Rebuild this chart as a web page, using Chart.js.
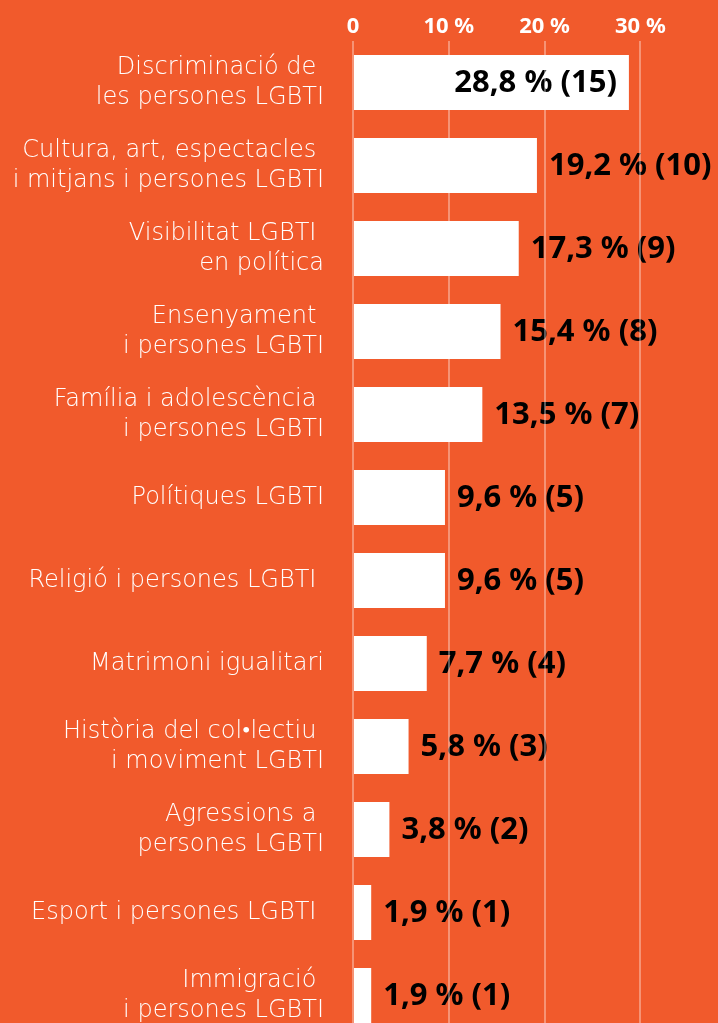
<!DOCTYPE html>
<html>
<head>
<meta charset="utf-8">
<script src="https://cdn.jsdelivr.net/npm/chart.js@4/dist/chart.umd.min.js"></script>
<style>
  html, body { margin: 0; padding: 0; background: #F15A2C; overflow: hidden; }
  #wrap { position: relative; width: 718px; height: 1040px; }
</style>
</head>
<body>
<div id="wrap"><canvas id="temes"></canvas></div>
<script>
const temes = [
  ['Discriminació de ', 'les persones LGBTI'],
  ['Cultura, art, espectacles ', 'i mitjans i persones LGBTI'],
  ['Visibilitat LGBTI ', 'en política'],
  ['Ensenyament ', 'i persones LGBTI'],
  ['Família i adolescència ', 'i persones LGBTI'],
  'Polítiques LGBTI',
  'Religió i persones LGBTI ',
  'Matrimoni igualitari',
  ['Història del col•lectiu ', 'i moviment LGBTI'],
  ['Agressions a ', 'persones LGBTI'],
  'Esport i persones LGBTI ',
  ['Immigració ', 'i persones LGBTI']
];
const percentatges = [28.8, 19.2, 17.3, 15.4, 13.5, 9.6, 9.6, 7.7, 5.8, 3.8, 1.9, 1.9];
const recompte = [15, 10, 9, 8, 7, 5, 5, 4, 3, 2, 1, 1];
const marques = [0, 10, 20, 30];

// etiquetes de valor: fora de la barra, o dins si no hi caben
const etiquetesValor = {
  id: 'etiquetesValor',
  afterDatasetsDraw(chart) {
    const ctx = chart.ctx;
    const meta = chart.getDatasetMeta(0);
    ctx.save();
    ctx.font = 'bold 31px "Noto Sans"';
    ctx.fillStyle = '#000';
    ctx.textBaseline = 'middle';
    meta.data.forEach((bar, i) => {
      const txt = percentatges[i].toFixed(1).replace('.', ',') + ' % (' + recompte[i] + ')';
      const w = ctx.measureText(txt).width;
      if (bar.x + 12 + w > chart.width + 6) {
        ctx.textAlign = 'right';
        ctx.fillText(txt, bar.x - 12, bar.y + 1);
      } else {
        ctx.textAlign = 'left';
        ctx.fillText(txt, bar.x + 12, bar.y + 1);
      }
    });
    ctx.restore();
  }
};

new Chart(document.getElementById('temes').getContext('2d'), {
  type: 'bar',
  data: {
    labels: temes,
    datasets: [{
      data: percentatges,
      backgroundColor: '#FFFFFF',
      borderWidth: 0,
      barPercentage: 0.66,
      categoryPercentage: 1
    }]
  },
  options: {
    indexAxis: 'y',
    responsive: true,
    maintainAspectRatio: false,
    animation: false,
    layout: { padding: { top: 0, right: 0, bottom: 3, left: 0 } },
    plugins: {
      legend: { display: false },
      tooltip: { enabled: false }
    },
    scales: {
      x: {
        position: 'top',
        min: 0,
        max: 38.1,
        afterBuildTicks(scale) { scale.ticks = marques.map(v => ({ value: v })); },
        afterFit(scale) {
          scale.height = 41;
          scale.paddingLeft = 0;
          scale.paddingRight = 0;
        },
        border: { display: false },
        grid: { color: 'rgba(255,255,255,0.35)', lineWidth: 2, drawTicks: false, z: 1 },
        ticks: {
          color: '#FFFFFF',
          padding: 1,
          maxRotation: 0,
          font: { family: '"Noto Sans"', size: 22, weight: 'bold' },
          callback: v => v === 0 ? '0' : v + ' %'
        }
      },
      y: {
        afterFit(scale) {
          scale.width = 353;
          scale.paddingTop = 0;
          scale.paddingBottom = 0;
        },
        border: { display: false },
        grid: { display: false },
        ticks: {
          color: '#FFFFFF',
          padding: 21,
          font: { family: '"DejaVu Sans"', size: 24, weight: '200', lineHeight: 1.25 }
        }
      }
    }
  },
  plugins: [etiquetesValor]
});
</script>
</body>
</html>
